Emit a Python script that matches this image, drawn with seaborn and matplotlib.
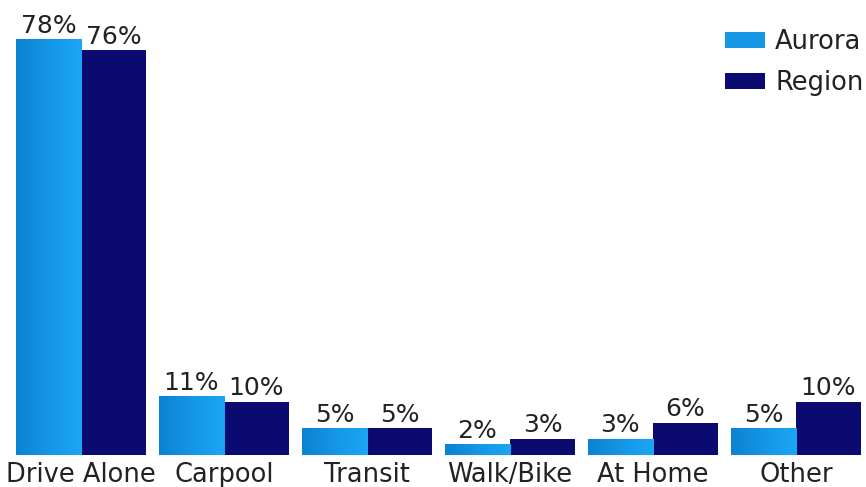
import numpy as np
import pandas as pd
import matplotlib
matplotlib.use('Agg')
import matplotlib.pyplot as plt
from matplotlib.colors import LinearSegmentedColormap
import seaborn as sns

# data
modes = ['Drive Alone', 'Carpool', 'Transit', 'Walk/Bike', 'At Home', 'Other']
aurora = [78, 11, 5, 2, 3, 5]
region = [76, 10, 5, 3, 6, 10]

df = pd.DataFrame({
    'mode': modes * 2,
    'area': ['Aurora'] * len(modes) + ['Region'] * len(modes),
    'share': aurora + region,
})

sns.set_style('white')
plt.rcParams['font.family'] = ['DejaVu Sans']

fig = plt.figure(figsize=(8.66, 4.87), dpi=100)
ax = fig.add_axes([0, 0.066, 1, 0.93])

palette = {'Aurora': '#1597E6', 'Region': '#0A0A70'}
sns.barplot(data=df, x='mode', y='share', hue='area', palette=palette,
            width=0.91, saturation=1, ax=ax, order=modes, linewidth=0)

# light horizontal gradient on the Aurora bars
grad = LinearSegmentedColormap.from_list('aur', ['#0C82D2', '#1596E6', '#1AA6F4'])
for bar in ax.containers[0]:
    x0, y0 = bar.get_x(), bar.get_y()
    w, h = bar.get_width(), bar.get_height()
    im = ax.imshow(np.linspace(0, 1, 64).reshape(1, -1), cmap=grad, aspect='auto',
                   extent=(x0, x0 + w, y0, y0 + h), zorder=bar.get_zorder() + 0.1)
    im.set_clip_path(bar)

for cont in ax.containers:
    ax.bar_label(cont, labels=[f'{int(b.get_height())}%' for b in cont],
                 padding=1, fontsize=18, color='#222222')

ax.set_xlim(-0.566, 5.49)
ax.set_ylim(0, 85)
ax.set_xlabel('')
ax.set_ylabel('')
ax.set_yticks([])
ax.tick_params(axis='x', length=0, labelsize=18.5, pad=5, colors='#222222')
sns.despine(ax=ax, left=True, bottom=True)

leg = ax.legend(loc='upper right', bbox_to_anchor=(1.021, 0.985), frameon=False,
                fontsize=18.5, handlelength=1.55, handleheight=0.6,
                labelspacing=0.58, handletextpad=0.4, borderaxespad=0.4)
for t in leg.get_texts():
    t.set_color('#222222')

fig.savefig('out.png', dpi=100)
